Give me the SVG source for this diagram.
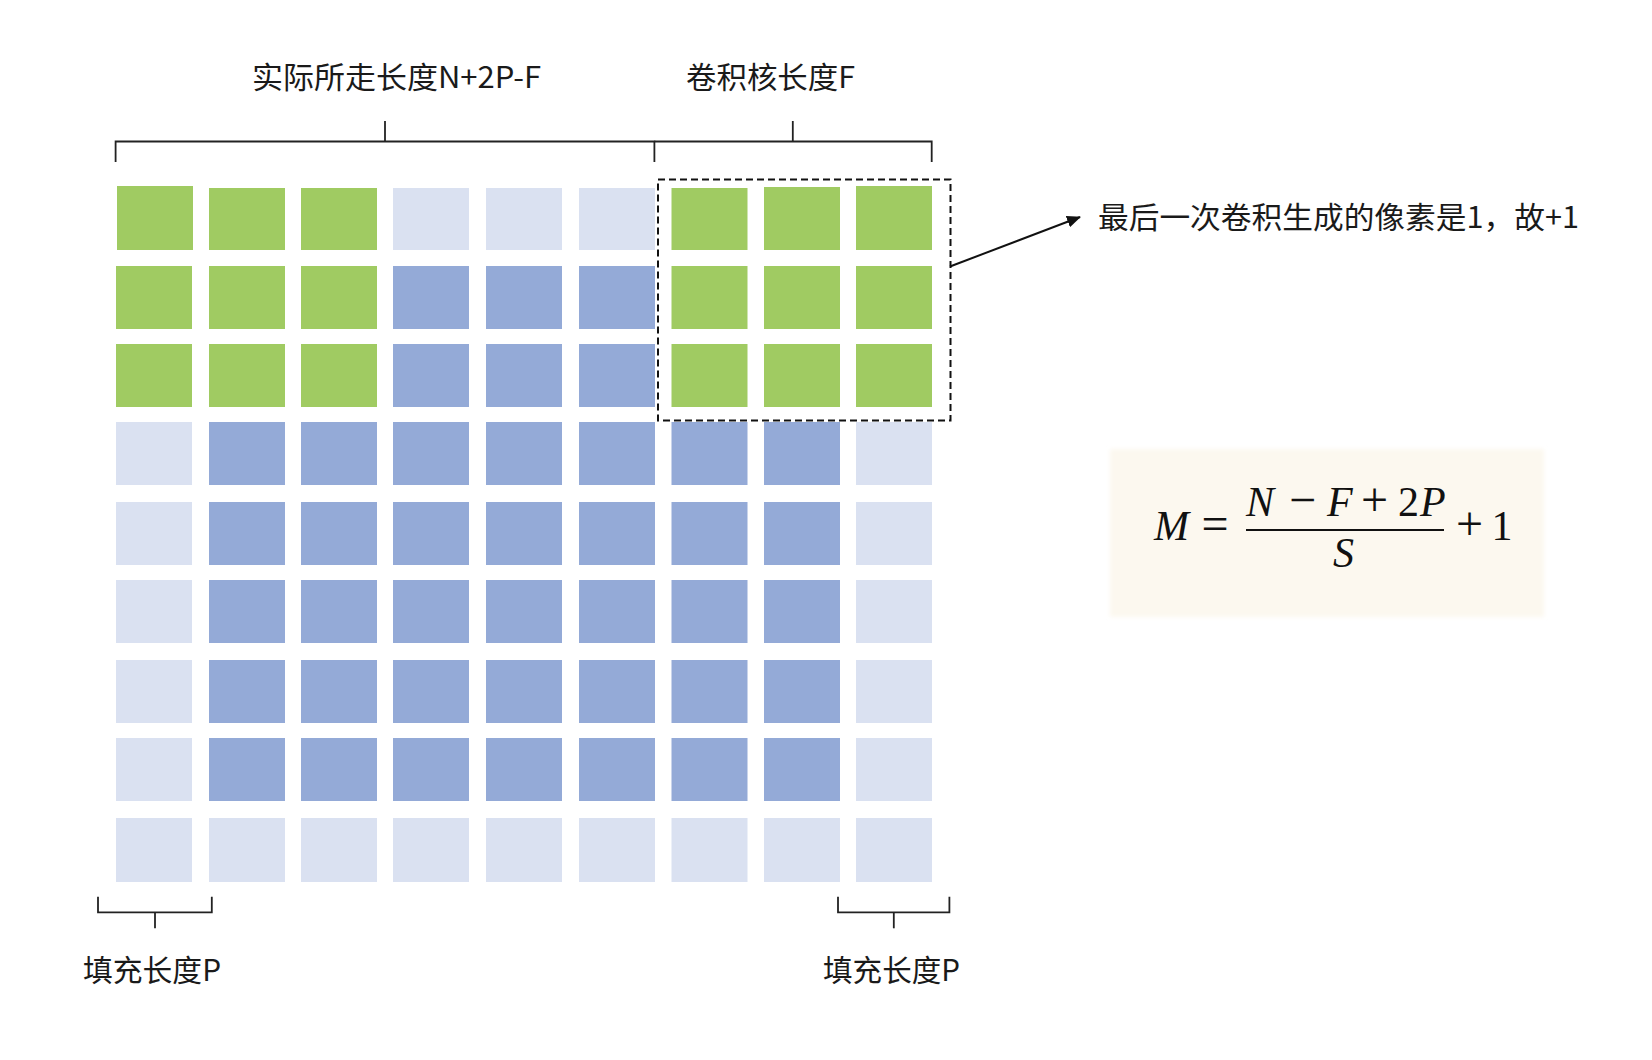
<svg xmlns="http://www.w3.org/2000/svg" width="1652" height="1060" viewBox="0 0 1652 1060">
<defs>
<style>
.g{fill:#A0CB62}
.b{fill:#94AAD7}
.l{fill:#DAE1F1}
.lbl{font-family:"Noto Sans CJK SC","Liberation Sans",sans-serif;font-size:30px;fill:#1a1a1a}
.br{fill:none;stroke:#222;stroke-width:1.8}
.mi{font-family:"Liberation Serif","DejaVu Serif",serif;font-style:italic;font-size:42px;fill:#111}
.mr{font-family:"Liberation Serif","DejaVu Serif",serif;font-size:42px;fill:#111}
.op{font-family:"Liberation Serif","DejaVu Serif",serif;font-size:48px;fill:#111}
</style>
<marker id="ah" markerWidth="14" markerHeight="12" refX="13" refY="6" orient="auto" markerUnits="userSpaceOnUse">
<path d="M0,0 L14,6 L0,12 Z" fill="#111"/>
</marker>
<filter id="soft" x="-5%" y="-10%" width="110%" height="120%"><feGaussianBlur stdDeviation="2"/></filter>
</defs>
<rect width="1652" height="1060" fill="#fff"/>

<g id="grid">
<g id="row1">
<rect class="g" x="117" y="186" width="76" height="64"/>
<rect class="g" x="209" y="188" width="76" height="62"/>
<rect class="g" x="301" y="188" width="76" height="62"/>
<rect class="l" x="393" y="188" width="76" height="62"/>
<rect class="l" x="486" y="188" width="76" height="62"/>
<rect class="l" x="579" y="188" width="76" height="62"/>
<rect class="g" x="671.5" y="188" width="76" height="62"/>
<rect class="g" x="764" y="187" width="76" height="63"/>
<rect class="g" x="856" y="186" width="76" height="64"/>
</g>
<g id="row2">
<rect class="g" x="116" y="266" width="76" height="63"/>
<rect class="g" x="209" y="266" width="76" height="63"/>
<rect class="g" x="301" y="266" width="76" height="63"/>
<rect class="b" x="393" y="266" width="76" height="63"/>
<rect class="b" x="486" y="266" width="76" height="63"/>
<rect class="b" x="579" y="266" width="76" height="63"/>
<rect class="g" x="671.5" y="266" width="76" height="63"/>
<rect class="g" x="764" y="266" width="76" height="63"/>
<rect class="g" x="856" y="266" width="76" height="63"/>
</g>
<g id="row3">
<rect class="g" x="116" y="344" width="76" height="63"/>
<rect class="g" x="209" y="344" width="76" height="63"/>
<rect class="g" x="301" y="344" width="76" height="63"/>
<rect class="b" x="393" y="344" width="76" height="63"/>
<rect class="b" x="486" y="344" width="76" height="63"/>
<rect class="b" x="579" y="344" width="76" height="63"/>
<rect class="g" x="671.5" y="344" width="76" height="63"/>
<rect class="g" x="764" y="344" width="76" height="63"/>
<rect class="g" x="856" y="344" width="76" height="63"/>
</g>
<g id="row4">
<rect class="l" x="116" y="422" width="76" height="63"/>
<rect class="b" x="209" y="422" width="76" height="63"/>
<rect class="b" x="301" y="422" width="76" height="63"/>
<rect class="b" x="393" y="422" width="76" height="63"/>
<rect class="b" x="486" y="422" width="76" height="63"/>
<rect class="b" x="579" y="422" width="76" height="63"/>
<rect class="b" x="671.5" y="422" width="76" height="63"/>
<rect class="b" x="764" y="422" width="76" height="63"/>
<rect class="l" x="856" y="422" width="76" height="63"/>
</g>
<g id="row5">
<rect class="l" x="116" y="502" width="76" height="63"/>
<rect class="b" x="209" y="502" width="76" height="63"/>
<rect class="b" x="301" y="502" width="76" height="63"/>
<rect class="b" x="393" y="502" width="76" height="63"/>
<rect class="b" x="486" y="502" width="76" height="63"/>
<rect class="b" x="579" y="502" width="76" height="63"/>
<rect class="b" x="671.5" y="502" width="76" height="63"/>
<rect class="b" x="764" y="502" width="76" height="63"/>
<rect class="l" x="856" y="502" width="76" height="63"/>
</g>
<g id="row6">
<rect class="l" x="116" y="580" width="76" height="63"/>
<rect class="b" x="209" y="580" width="76" height="63"/>
<rect class="b" x="301" y="580" width="76" height="63"/>
<rect class="b" x="393" y="580" width="76" height="63"/>
<rect class="b" x="486" y="580" width="76" height="63"/>
<rect class="b" x="579" y="580" width="76" height="63"/>
<rect class="b" x="671.5" y="580" width="76" height="63"/>
<rect class="b" x="764" y="580" width="76" height="63"/>
<rect class="l" x="856" y="580" width="76" height="63"/>
</g>
<g id="row7">
<rect class="l" x="116" y="660" width="76" height="63"/>
<rect class="b" x="209" y="660" width="76" height="63"/>
<rect class="b" x="301" y="660" width="76" height="63"/>
<rect class="b" x="393" y="660" width="76" height="63"/>
<rect class="b" x="486" y="660" width="76" height="63"/>
<rect class="b" x="579" y="660" width="76" height="63"/>
<rect class="b" x="671.5" y="660" width="76" height="63"/>
<rect class="b" x="764" y="660" width="76" height="63"/>
<rect class="l" x="856" y="660" width="76" height="63"/>
</g>
<g id="row8">
<rect class="l" x="116" y="738" width="76" height="63"/>
<rect class="b" x="209" y="738" width="76" height="63"/>
<rect class="b" x="301" y="738" width="76" height="63"/>
<rect class="b" x="393" y="738" width="76" height="63"/>
<rect class="b" x="486" y="738" width="76" height="63"/>
<rect class="b" x="579" y="738" width="76" height="63"/>
<rect class="b" x="671.5" y="738" width="76" height="63"/>
<rect class="b" x="764" y="738" width="76" height="63"/>
<rect class="l" x="856" y="738" width="76" height="63"/>
</g>
<g id="row9">
<rect class="l" x="116" y="818" width="76" height="64"/>
<rect class="l" x="209" y="818" width="76" height="64"/>
<rect class="l" x="301" y="818" width="76" height="64"/>
<rect class="l" x="393" y="818" width="76" height="64"/>
<rect class="l" x="486" y="818" width="76" height="64"/>
<rect class="l" x="579" y="818" width="76" height="64"/>
<rect class="l" x="671.5" y="818" width="76" height="64"/>
<rect class="l" x="764" y="818" width="76" height="64"/>
<rect class="l" x="856" y="818" width="76" height="64"/>
</g>
</g>

<g id="kernel-window">
<rect x="658" y="179.5" width="292.5" height="241" fill="none" stroke="#111" stroke-width="2" stroke-dasharray="7 4"/>
</g>

<g id="connectors">
<path class="br" d="M115.6,162 V141.5 H654.4 V162"/>
<path class="br" d="M385,141.5 V121"/>
<path class="br" d="M654.4,141.5 H931.7 V162"/>
<path class="br" d="M792.8,141.5 V121"/>
<path class="br" d="M98,896.7 V912.3 H211.8 V896.7"/>
<path class="br" d="M155,912.3 V928.3"/>
<path class="br" d="M838,896.7 V912.3 H949.4 V896.7"/>
<path class="br" d="M893.8,912.3 V928.3"/>
<line x1="950" y1="266.5" x2="1080" y2="217" stroke="#111" stroke-width="2" marker-end="url(#ah)"/>
</g>

<g id="label-stride">
<text class="lbl" x="252" y="88" textLength="289" lengthAdjust="spacingAndGlyphs">实际所走长度N+2P-F</text>
</g>
<g id="label-kernel">
<text class="lbl" x="686" y="88" textLength="169" lengthAdjust="spacingAndGlyphs">卷积核长度F</text>
</g>
<g id="label-last">
<text class="lbl" x="1098" y="228" textLength="481" lengthAdjust="spacingAndGlyphs">最后一次卷积生成的像素是1，故+1</text>
</g>
<g id="label-pad-left">
<text class="lbl" x="83" y="981" textLength="138" lengthAdjust="spacingAndGlyphs">填充长度P</text>
</g>
<g id="label-pad-right">
<text class="lbl" x="823" y="981" textLength="137" lengthAdjust="spacingAndGlyphs">填充长度P</text>
</g>

<g id="formula">
<rect x="1110" y="449" width="434" height="168" fill="#FCF8EF" filter="url(#soft)"/>
<text class="mi" x="1154" y="540">M</text>
<text class="op" x="1215" y="540" text-anchor="middle">=</text>
<line x1="1246" y1="530" x2="1444" y2="530" stroke="#111" stroke-width="2"/>
<text class="mi" x="1246" y="516">N</text>
<text class="op" x="1302.5" y="516" text-anchor="middle">−</text>
<text class="mi" x="1327" y="516">F</text>
<text class="op" x="1374.5" y="516" text-anchor="middle">+</text>
<text class="mr" x="1398" y="516">2<tspan class="mi" dx="1">P</tspan></text>
<text class="mi" x="1333" y="567">S</text>
<text class="op" x="1469.5" y="540" text-anchor="middle">+</text>
<text class="mr" x="1502" y="540" text-anchor="middle">1</text>
</g>
</svg>
